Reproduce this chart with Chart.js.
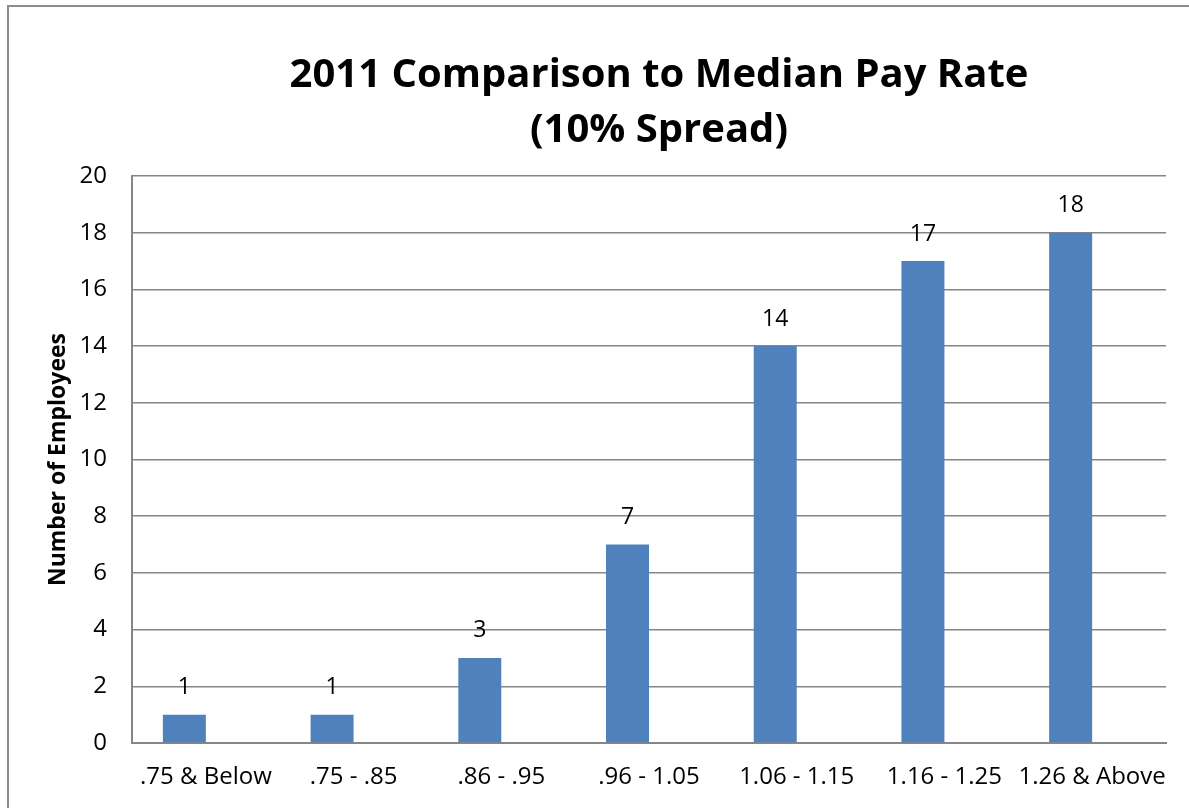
<!DOCTYPE html>
<html>
<head>
<meta charset="utf-8">
<script src="https://cdn.jsdelivr.net/npm/chart.js@4"></script>
<style>
  html, body { margin: 0; padding: 0; background: #fff; overflow: hidden; }
  #frame { position: absolute; left: 7px; top: 5px; width: 1400px; height: 1000px; border: 2px solid #8c8c8c; box-sizing: border-box; }
  #wrap { position: absolute; left: 0; top: 0; width: 1189px; height: 808px; }
</style>
</head>
<body>
<div id="frame"></div>
<div id="wrap"><canvas id="c" width="1189" height="808"></canvas></div>
<script>
const categories = ['.75 & Below', '.75 - .85', '.86 - .95', '.96 - 1.05', '1.06 - 1.15', '1.16 - 1.25', '1.26 & Above'];
const employees = [1, 1, 3, 7, 14, 17, 18];
const emptySeries = [null, null, null, null, null, null, null];
const yTicks = [0, 2, 4, 6, 8, 10, 12, 14, 16, 18, 20];
const titleLines = ['2011 Comparison to Median Pay Rate', '(10% Spread)'];
const yAxisTitle = 'Number of Employees';

const FONT = '"Open Sans", Lato, sans-serif';

const titlePlugin = {
  id: 'customTitle',
  afterDraw(chart) {
    const ctx = chart.ctx;
    ctx.save();
    ctx.fillStyle = '#000';
    ctx.font = 'bold 40px ' + FONT;
    ctx.textAlign = 'center';
    ctx.textBaseline = 'middle';
    const cx = 659;
    ctx.fillText(titleLines[0], cx, 76);
    ctx.fillText(titleLines[1], cx, 131);
    ctx.restore();
  }
};

const labelPlugin = {
  id: 'valueLabels',
  afterDatasetsDraw(chart) {
    const ctx = chart.ctx;
    const meta = chart.getDatasetMeta(0);
    ctx.save();
    ctx.fillStyle = '#000';
    ctx.font = '23px ' + FONT;
    ctx.textAlign = 'center';
    ctx.textBaseline = 'middle';
    meta.data.forEach((bar, i) => {
      const v = employees[i];
      if (v == null) return;
      ctx.fillText(String(v), bar.x, bar.y - 27);
    });
    ctx.restore();
  }
};

new Chart(document.getElementById('c'), {
  type: 'bar',
  data: {
    labels: categories,
    datasets: [
      { data: employees, backgroundColor: '#4F81BD', borderWidth: 0 },
      { data: emptySeries, backgroundColor: '#C0504D', borderWidth: 0 }
    ]
  },
  options: {
    responsive: false,
    animation: false,
    devicePixelRatio: 1,
    layout: { padding: { left: 45, right: 23, top: 176, bottom: 0 } },
    datasets: { bar: { categoryPercentage: 0.582, barPercentage: 1 } },
    plugins: { legend: { display: false }, tooltip: { enabled: false }, title: { display: false } },
    scales: {
      x: {
        afterFit(scale) { scale.height = 65; },
        grid: { display: false, drawTicks: false },
        border: { display: true, color: '#868686', width: 2 },
        ticks: { color: '#000', font: { family: FONT, size: 24 }, padding: 20, maxRotation: 0, autoSkip: false }
      },
      y: {
        min: 0, max: 20,
        afterBuildTicks(scale) { scale.ticks = yTicks.map(v => ({ value: v })); },
        afterFit(scale) { scale.width = 87; },
        grid: { color: '#868686', lineWidth: 1.5, drawTicks: false },
        border: { display: true, color: '#868686', width: 2 },
        ticks: { color: '#000', font: { family: FONT, size: 24 }, padding: 25 },
        title: { display: true, text: yAxisTitle, color: '#000', font: { family: FONT, size: 23, weight: 'bold' }, padding: 0 }
      }
    }
  },
  plugins: [titlePlugin, labelPlugin]
});
</script>
</body>
</html>
